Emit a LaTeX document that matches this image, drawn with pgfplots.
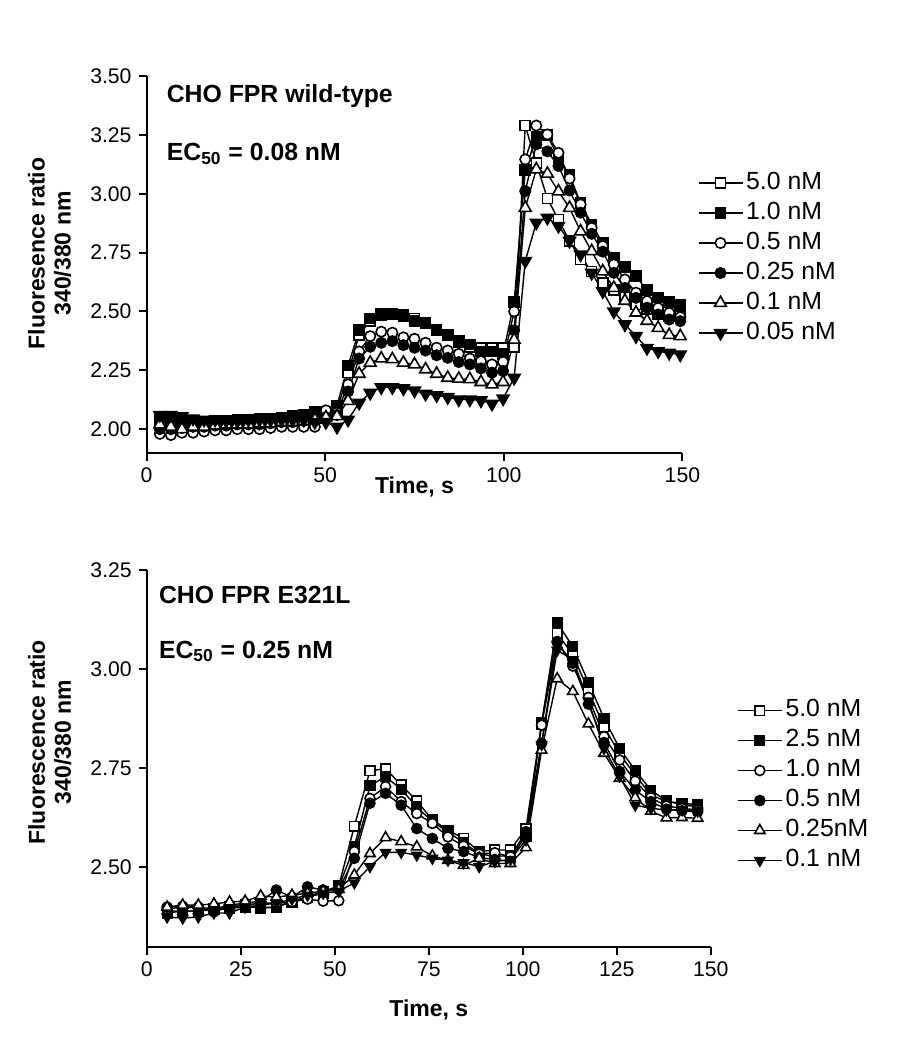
\documentclass[border=0pt]{standalone}
\usepackage{fontspec}
\setmainfont{Liberation Sans}
\usepackage{pgfplots}
\usepackage{pgfplotstable}
\pgfplotsset{compat=1.18}

% top panel: CHO FPR wild-type
\pgfplotstableread{
t     sA    sB    cA    cB    tA    tB
3.7   2.02  2.04  1.98  2.00  2.02  2.06
6.8   2.03  2.04  1.975 2.00  2.01  2.06
9.9   2.02  2.03  1.985 2.005 2.00  2.055
13.0  2.02  2.03  1.985 2.01  2.01  2.045
16.1  2.02  2.03  1.99  2.01  2.01  2.04
19.2  2.025 2.035 1.995 2.015 2.015 2.04
22.3  2.03  2.035 1.995 2.015 2.02  2.035
25.4  2.03  2.04  2.00  2.02  2.02  2.035
28.5  2.03  2.04  2.00  2.02  2.02  2.04
31.6  2.035 2.045 2.00  2.02  2.025 2.04
34.7  2.04  2.045 2.005 2.025 2.025 2.04
37.8  2.04  2.05  2.01  2.03  2.03  2.04
40.9  2.045 2.055 2.01  2.03  2.03  2.04
44.0  2.05  2.06  2.01  2.035 2.035 2.04
47.1  2.055 2.075 2.01  2.04  2.04  2.03
50.2  2.06  2.075 2.08  2.05  2.05  2.03
53.3  2.08  2.10  2.07  2.06  2.055 2.01
56.4  2.24  2.27  2.19  2.16  2.12  2.04
59.5  2.40  2.42  2.33  2.30  2.235 2.112
62.6  2.46  2.47  2.395 2.35  2.282 2.154
65.7  2.485 2.49  2.414 2.367 2.30  2.178
68.8  2.49  2.49  2.41  2.374 2.297 2.178
71.9  2.485 2.48  2.39  2.357 2.282 2.173
75.0  2.47  2.46  2.384 2.346 2.275 2.164
78.1  2.45  2.45  2.367 2.334 2.254 2.15
81.2  2.42  2.42  2.346 2.314 2.235 2.144
84.3  2.40  2.40  2.334 2.303 2.218 2.136
87.4  2.375 2.37  2.32  2.285 2.214 2.126
90.5  2.35  2.36  2.30  2.275 2.212 2.126
93.6  2.345 2.33  2.289 2.258 2.20  2.122
96.7  2.345 2.33  2.275 2.24  2.19  2.108
99.8  2.345 2.32  2.286 2.247 2.20  2.13
102.9 2.35  2.54  2.50  2.42  2.38  2.218
106.0 3.29  3.10  3.146 3.011 2.94  2.714
109.1 3.13  3.24  3.29  3.21  3.104 2.877
112.2 2.98  3.25  3.252 3.18  3.085 2.898
115.3 2.89  3.15  3.174 3.118 3.01  2.863
118.4 2.80  3.08  3.065 3.014 2.94  2.80
121.5 2.72  2.96  2.955 2.92  2.84  2.742
124.6 2.67  2.87  2.855 2.83  2.756 2.664
127.7 2.62  2.79  2.778 2.754 2.67  2.586
130.8 2.59  2.73  2.70  2.664 2.60  2.50
133.9 2.56  2.69  2.636 2.60  2.545 2.445
137.0 2.53  2.65  2.58  2.558 2.495 2.395
140.1 2.51  2.59  2.544 2.516 2.46  2.345
143.2 2.49  2.56  2.515 2.487 2.43  2.331
146.3 2.48  2.54  2.494 2.466 2.40  2.324
149.4 2.48  2.53  2.476 2.459 2.395 2.317
}\wildtype

% bottom panel: CHO FPR E321L
\pgfplotstableread{
t      sA    sB    cA    cB    tA    tB
5.4    2.385 2.39  2.395 2.40  2.40  2.375
9.55   2.39  2.39  2.40  2.402 2.405 2.372
13.7   2.39  2.39  2.398 2.40  2.405 2.375
17.85  2.393 2.395 2.388 2.395 2.408 2.385
22.0   2.397 2.40  2.40  2.405 2.413 2.385
26.15  2.40  2.405 2.405 2.41  2.415 2.40
30.3   2.399 2.397 2.41  2.415 2.428 2.405
34.45  2.40  2.40  2.41  2.443 2.425 2.41
38.6   2.413 2.415 2.413 2.425 2.43  2.42
42.75  2.426 2.425 2.42  2.451 2.435 2.43
46.9   2.439 2.435 2.415 2.443 2.44  2.435
51.05  2.453 2.451 2.416 2.445 2.445 2.44
55.2   2.604 2.552 2.54  2.523 2.481 2.461
59.35  2.744 2.706 2.674 2.662 2.535 2.502
63.5   2.749 2.729 2.704 2.687 2.575 2.538
67.65  2.708 2.697 2.666 2.657 2.565 2.538
71.8   2.668 2.653 2.636 2.598 2.552 2.531
75.95  2.62  2.615 2.611 2.573 2.529 2.523
80.1   2.594 2.59  2.577 2.548 2.518 2.518
84.25  2.573 2.562 2.554 2.54  2.505 2.512
88.4   2.54  2.535 2.534 2.525 2.523 2.502
92.55  2.544 2.527 2.537 2.52  2.51  2.515
96.7   2.544 2.531 2.527 2.515 2.51  2.52
100.85 2.598 2.577 2.59  2.586 2.55  2.57
105.0  2.865 2.862 2.859 2.813 2.796 2.81
109.15 3.091 3.117 3.07  3.068 2.976 3.048
113.3  3.036 3.057 3.008 3.015 2.944 3.024
117.45 2.946 2.967 2.929 2.912 2.862 2.92
121.6  2.855 2.876 2.83  2.815 2.788 2.80
125.75 2.786 2.80  2.771 2.742 2.725 2.73
129.9  2.733 2.745 2.718 2.695 2.676 2.657
134.05 2.683 2.695 2.676 2.666 2.642 2.649
138.2  2.666 2.668 2.655 2.647 2.625 2.645
142.35 2.662 2.658 2.649 2.643 2.626 2.645
146.5  2.658 2.653 2.645 2.64  2.624 2.642
}\mutant

\tikzset{paneltext/.style={anchor=west, inner sep=0pt, font=\bfseries\fontsize{12.4}{14}\selectfont}}

\pgfplotsset{
  panel/.style={
    scale only axis,
    axis x line*=bottom, axis y line*=left,
    axis line style={line width=1pt},
    tick align=outside, major tick length=4pt,
    tick style={line width=1pt, black},
    xmin=0, xmax=150,
    /pgf/number format/assume math mode=true,
    tick label style={font=\fontsize{10.6}{12}\selectfont},
    yticklabel style={/pgf/number format/.cd, fixed, fixed zerofill, precision=2},
    label style={font=\bfseries\fontsize{11.5}{13}\selectfont},
    ylabel style={align=center},
    legend cell align=left,
    legend style={draw=none, fill=none, inner sep=0pt, row sep=0pt,
      font=\fontsize{12.4}{14}\selectfont,
      nodes={inner sep=1.5pt, text height=9pt, text depth=3pt}},
    legend image code/.code={\draw[mark repeat=2,mark phase=2]
      plot coordinates {(0pt,0pt) (11pt,0pt) (22pt,0pt)};},
  },
  ln/.style={black, line width=0.7pt},
  osq/.style={ln, mark=square*, mark size=#1, mark options={fill=white, line width=0.8pt}},
  fsq/.style={ln, mark=square*, mark size=#1, mark options={fill=black, line width=0.8pt}},
  oci/.style={ln, mark=*, mark size=#1, mark options={fill=white, line width=0.8pt}},
  fci/.style={ln, mark=*, mark size=#1, mark options={fill=black, line width=0.8pt}},
  otr/.style={ln, mark=triangle*, mark size=#1, mark options={fill=white, line width=0.8pt}},
  itr/.style={ln, mark=triangle*, mark size=#1, mark options={fill=black, rotate=180, line width=0.8pt}},
}

\begin{document}
\begin{tikzpicture}
\path (0pt,0pt) rectangle (448.5pt,525pt);

\begin{axis}[panel,
  at={(73.3pt,298.65pt)}, anchor=south west,
  width=267.9pt, height=188.3pt,
  ymin=1.9, ymax=3.5,
  xtick={0,50,100,150},
  ytick={2.00,2.25,2.50,2.75,3.00,3.25,3.50},
  xlabel={Time, s},
  ylabel={Fluoresence ratio\\340/380 nm},
  xlabel style={at={(axis description cs:0.5,-0.091)}, anchor=center},
  ylabel style={at={(axis description cs:-0.181,0.529)}, anchor=center},
  legend style={at={(axis description cs:1.028,0.757)}, anchor=north west},
]
\addplot[osq=2.5pt] table[x=t, y=sA] {\wildtype};
\addlegendentry{5.0 nM}
\addplot[fsq=2.5pt] table[x=t, y=sB] {\wildtype};
\addlegendentry{1.0 nM}
\addplot[oci=2.6pt] table[x=t, y=cA] {\wildtype};
\addlegendentry{0.5 nM}
\addplot[fci=2.6pt] table[x=t, y=cB] {\wildtype};
\addlegendentry{0.25 nM}
\addplot[otr=3.4pt] table[x=t, y=tA] {\wildtype};
\addlegendentry{0.1 nM}
\addplot[itr=3.4pt] table[x=t, y=tB] {\wildtype};
\addlegendentry{0.05 nM}
\node[paneltext] at (axis description cs:0.037,0.947) {CHO FPR wild-type};
\node[paneltext] at (axis description cs:0.037,0.793) {EC\textsubscript{50} = 0.08 nM};
\end{axis}

\begin{axis}[panel,
  at={(73.4pt,51.65pt)}, anchor=south west,
  width=282pt, height=188.3pt,
  ymin=2.3, ymax=3.25,
  xtick={0,25,50,75,100,125,150},
  ytick={2.50,2.75,3.00,3.25},
  xlabel={Time, s},
  ylabel={Fluorescence ratio\\340/380 nm},
  xlabel style={at={(axis description cs:0.5,-0.168)}, anchor=center},
  ylabel style={at={(axis description cs:-0.172,0.543)}, anchor=center},
  legend style={at={(axis description cs:1.046,0.668)}, anchor=north west},
]
\addplot[osq=2.4pt] table[x=t, y=sA] {\mutant};
\addlegendentry{5.0 nM}
\addplot[fsq=2.4pt] table[x=t, y=sB] {\mutant};
\addlegendentry{2.5 nM}
\addplot[oci=2.5pt] table[x=t, y=cA] {\mutant};
\addlegendentry{1.0 nM}
\addplot[fci=2.5pt] table[x=t, y=cB] {\mutant};
\addlegendentry{0.5 nM}
\addplot[otr=3pt] table[x=t, y=tA] {\mutant};
\addlegendentry{0.25nM}
\addplot[itr=2.8pt] table[x=t, y=tB] {\mutant};
\addlegendentry{0.1 nM}
\node[paneltext] at (axis description cs:0.021,0.934) {CHO FPR E321L};
\node[paneltext] at (axis description cs:0.021,0.784) {EC\textsubscript{50} = 0.25 nM};
\end{axis}
\end{tikzpicture}
\end{document}
